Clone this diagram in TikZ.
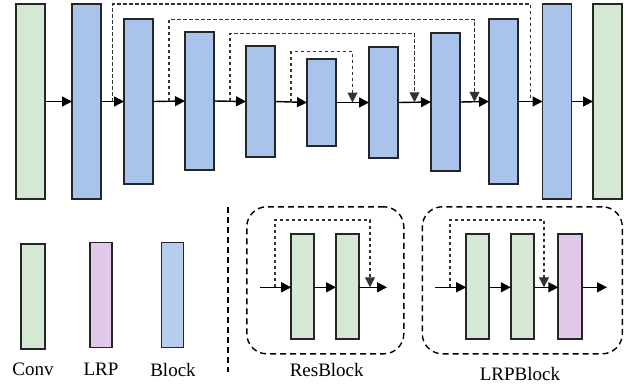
\documentclass[tikz,border=0pt]{standalone}
\usepackage{fontspec}
\setmainfont{Liberation Serif}
\usetikzlibrary{arrows.meta,calc}
\definecolor{cgreen}{HTML}{D5E8D4}
\definecolor{cblue}{HTML}{A9C4EB}
\definecolor{cpink}{HTML}{E3C9E9}
\tikzset{
  box/.style={draw=black!85, line width=1.8pt, inner sep=0pt, outer sep=0pt, minimum width=29pt},
  convbox/.style={box, fill=cgreen},
  blockbox/.style={box, fill=cblue},
  lrpbox/.style={box, fill=cpink},
  arr/.style={line width=1.4pt, -{Triangle[length=10pt,width=10pt]}},
  skipline/.style={line width=1.1pt, draw=black!80, dash pattern=on 3.5pt off 2.5pt},
  skiparr/.style={skipline, -{Triangle[length=10pt,width=10pt]}},
  frame/.style={draw, line width=1.4pt, dash pattern=on 6pt off 4pt, rounded corners=20pt},
  lbl/.style={font=\rmfamily\fontsize{19}{22}\selectfont, inner sep=0pt}
}
\begin{document}
\begin{tikzpicture}[x=1pt,y=-1pt]
\useasboundingbox (0,0) rectangle (632,388);
% top row
\node[convbox, minimum height=195pt] (c1) at (30.5,101.5) {};
\node[blockbox, minimum height=195pt] (b1) at (86.5,101.5) {};
\node[blockbox, minimum height=165pt] (b2) at (138.5,101.5) {};
\node[blockbox, minimum height=138pt] (b3) at (199.5,101) {};
\node[blockbox, minimum height=111pt] (b4) at (260.5,101.5) {};
\node[blockbox, minimum height=87pt] (b5) at (321.5,102.5) {};
\node[blockbox, minimum height=111pt] (b6) at (383.5,102.5) {};
\node[blockbox, minimum height=138pt] (b7) at (445.5,102) {};
\node[blockbox, minimum height=165pt] (b8) at (503.5,101.5) {};
\node[blockbox, minimum height=195pt] (b9) at (557,101.5) {};
\node[convbox, minimum height=195pt] (c2) at (607.5,101.5) {};
\draw[arr] (c1.east) -- (b1.west);
\draw[arr] (b1.east) -- (b2.west);
\draw[arr] (b2.east) -- (b3.west);
\draw[arr] (b3.east) -- (b4.west);
\draw[arr] (b4.east) -- (b5.west);
\draw[arr] (b5.east) -- (b6.west);
\draw[arr] (b6.east) -- (b7.west);
\draw[arr] (b7.east) -- (b8.west);
\draw[arr] (b8.east) -- (b9.west);
\draw[arr] (b9.east) -- (c2.west);
% skip connections
\coordinate (s1) at ($(b1.east)!0.5!(b2.west)$);
\coordinate (e1) at ($(b8.east)!0.5!(b9.west)$);
\coordinate (s2) at ($(b2.east)!0.5!(b3.west)$);
\coordinate (e2) at ($(b7.east)!0.5!(b8.west)$);
\coordinate (s3) at ($(b3.east)!0.5!(b4.west)$);
\coordinate (e3) at ($(b6.east)!0.5!(b7.west)$);
\coordinate (s4) at ($(b4.east)!0.5!(b5.west)$);
\coordinate (e4) at ($(b5.east)!0.5!(b6.west)$);
\coordinate (t1) at (0,4);
\coordinate (t2) at (0,19.5);
\coordinate (t3) at (0,33.5);
\coordinate (t4) at (0,51.5);
\draw[skipline] (s1) -- (s1 |- t1) -| (e1);
\draw[skiparr] (s2) -- (s2 |- t2) -| (e2);
\draw[skiparr] (s3) -- (s3 |- t3) -| (e3);
\draw[skiparr] (s4) -- (s4 |- t4) -| (e4);
% legend
\node[convbox, minimum width=24pt, minimum height=105pt] (lc) at (33,296.8) {};
\node[lrpbox, minimum width=22pt, minimum height=105pt] (ll) at (101,295) {};
\node[blockbox, fill=cblue!85, minimum width=22pt, minimum height=105pt] (lb) at (172.5,295) {};
\node[lbl] (tc) at (33,369.5) {Conv};
\node[lbl] (tl) at (101,369.5) {LRP};
\node[lbl] (tb) at (173,369.5) {Block};
% separator
\coordinate (sepA) at (228,207);
\coordinate (sepB) at (228,372);
\draw[line width=1.6pt, dash pattern=on 6pt off 4pt] (sepA) -- (sepB);
% ResBlock
\node[frame, minimum width=157pt, minimum height=147pt] (rf) at (325.3,280.3) {};
\node[convbox, minimum width=23pt, minimum height=105pt] (r1) at (302.7,286.8) {};
\node[convbox, minimum width=23pt, minimum height=105pt] (r2) at (347.5,286.8) {};
\coordinate (rin) at (260,287.3);
\coordinate (rout) at (387,287.3);
\coordinate (rs) at (275,287.3);
\coordinate (rt) at (0,220);
\coordinate (re) at (370,287.3);
\draw[arr] (rin) -- (rin -| r1.west);
\draw[arr] (r1.east |- rin) -- (r2.west |- rin);
\draw[arr] (r2.east |- rin) -- (rout);
\draw[skiparr] (rs) -- (rs |- rt) -| (re);
\node[lbl] (tr) at (326.7,369.5) {ResBlock};
% LRPBlock
\node[frame, minimum width=200pt, minimum height=147pt] (lf) at (522.3,280.3) {};
\node[convbox, minimum width=23pt, minimum height=105pt] (p1) at (477.7,286.8) {};
\node[convbox, minimum width=23pt, minimum height=105pt] (p2) at (522.3,286.8) {};
\node[lrpbox, minimum width=24pt, minimum height=105pt] (p3) at (570.3,286.8) {};
\coordinate (pin) at (435,287.3);
\coordinate (pout) at (607,287.3);
\coordinate (ps) at (450,287.3);
\coordinate (pt) at (0,220);
\coordinate (pe) at (544,287.3);
\draw[arr] (pin) -- (pin -| p1.west);
\draw[arr] (p1.east |- pin) -- (p2.west |- pin);
\draw[arr] (p2.east |- pin) -- (p3.west |- pin);
\draw[arr] (p3.east |- pin) -- (pout);
\draw[skiparr] (ps) -- (ps |- pt) -| (pe);
\node[lbl] (tp) at (520,374) {LRPBlock};
\end{tikzpicture}
\end{document}
